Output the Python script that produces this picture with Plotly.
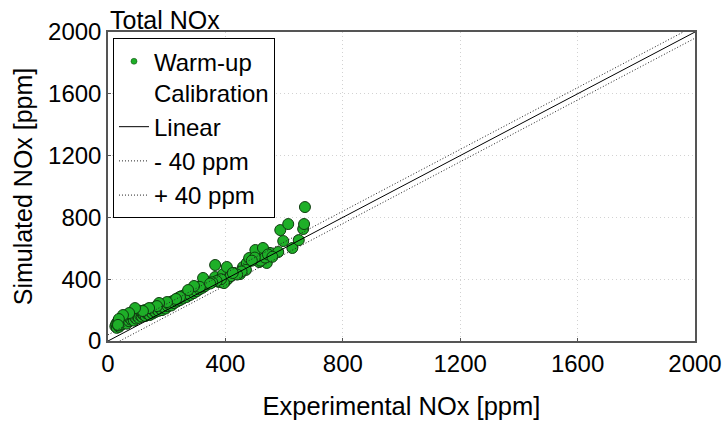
import plotly.graph_objects as go

# Experimental vs simulated NOx [ppm]
exp_nox = [25, 28, 30, 32, 34, 35, 38, 40, 42, 44, 45, 48, 50, 52, 55, 56, 58, 60, 62, 64,
           65, 68, 70, 72, 74, 76, 78, 80, 82, 85, 86, 88, 90, 92, 95, 96, 98, 100, 102, 105,
           108, 110, 112, 115, 118, 120, 122, 125, 128, 130, 132, 135, 138, 140, 142, 145, 148, 150,
           152, 155, 158, 160, 162, 165, 168, 170, 172, 175, 178, 180, 184, 186, 190, 192, 196, 200,
           204, 208, 212, 216, 220, 225, 230, 235, 240, 245, 250, 255, 262, 268, 275, 280, 288, 292,
           298, 302, 308, 312, 318, 322, 326, 330, 335, 340,
           324, 313, 293, 273, 245, 232, 201, 174, 167, 140, 119, 92, 72, 51, 37, 34,
           365, 365, 378, 392, 378, 405, 430, 450, 460, 473, 481, 515, 541, 518, 552, 502, 528, 580,
           628, 650, 597, 587, 614, 665, 668, 671,
           402, 410, 418, 395, 385, 370, 355, 348, 520, 535, 545, 560, 500, 490, 470, 455, 440, 425]
sim_nox = [95, 110, 85, 120, 100, 130, 92, 115, 140, 105, 125, 150, 110, 135, 160, 120, 145, 130, 165, 112,
           150, 140, 170, 128, 155, 145, 175, 138, 160, 150, 185, 132, 165, 155, 178, 145, 190, 160, 170, 150,
           182, 165, 195, 158, 175, 188, 170, 200, 162, 185, 178, 205, 175, 192, 168, 210, 185, 198,
           178, 215, 192, 205, 188, 225, 200, 212, 195, 232, 208, 220, 200, 238, 215, 228, 210, 245,
           225, 238, 252, 230, 258, 245, 268, 255, 280, 265, 290, 275, 300, 285, 312, 298, 325, 310,
           340, 322, 350, 335, 362, 345, 375, 355, 385, 370,
           408, 350, 356, 330, 285, 272, 252, 246, 226, 213, 194, 213, 181, 168, 142, 104,
           492, 414, 395, 433, 382, 479, 440, 433, 479, 505, 537, 511, 505, 544, 570, 589, 602, 576,
           602, 653, 647, 718, 757, 725, 757, 867,
           390, 405, 420, 375, 400, 388, 380, 372, 520, 540, 560, 545, 540, 520, 460, 450, 430, 440]

line_x = [0, 2000]
offset_ppm = 40
axis_ticks = [0, 400, 800, 1200, 1600, 2000]

FONT = "Arial, Liberation Sans, sans-serif"
GREEN = "rgb(30,175,40)"
EDGE = "rgb(15,60,15)"

fig = go.Figure()
fig.add_trace(go.Scatter(
    x=exp_nox, y=sim_nox, mode="markers", name="Warm-up<br>Calibration", showlegend=False,
    marker=dict(size=11, color=GREEN, line=dict(color=EDGE, width=1)),
))
# legend-only entry with a small marker, as in the reference legend
fig.add_trace(go.Scatter(
    x=[None], y=[None], mode="markers", name="Warm-up<br>Calibration",
    marker=dict(size=6, color=GREEN, line=dict(color=EDGE, width=0.5)),
))
fig.add_trace(go.Scatter(
    x=line_x, y=line_x, mode="lines", name="Linear",
    line=dict(color="black", width=1),
))
fig.add_trace(go.Scatter(
    x=[line_x[0] + offset_ppm, line_x[1]], y=[line_x[0], line_x[1] - offset_ppm],
    mode="lines", name="- 40 ppm",
    line=dict(color="#222222", width=1, dash="1px,2px"),
))
fig.add_trace(go.Scatter(
    x=[line_x[0], line_x[1] - offset_ppm], y=[line_x[0] + offset_ppm, line_x[1]],
    mode="lines", name="+ 40 ppm",
    line=dict(color="#222222", width=1, dash="1px,2px"),
))

axis_common = dict(
    range=[0, 2000], tickvals=axis_ticks, ticktext=[str(v) for v in axis_ticks],
    showgrid=True, gridcolor="#d2d2d2", griddash="1px,3px", gridwidth=1,
    zeroline=False, showline=True, linecolor="#555555", linewidth=1.5, mirror=True,
    ticks="inside", ticklen=3, tickcolor="#555555", automargin=False,
    tickfont=dict(family=FONT, size=24, color="black"),
)

fig.update_layout(
    width=728, height=427,
    margin=dict(l=108, r=33, t=32, b=86),
    paper_bgcolor="white", plot_bgcolor="white",
    font=dict(family=FONT, color="black"),
    showlegend=True,
    legend=dict(
        x=0.0085, y=0.98, xanchor="left", yanchor="top", valign="top",
        bordercolor="black", borderwidth=1, bgcolor="white",
        font=dict(family=FONT, size=24, color="black"),
        itemwidth=30, tracegroupgap=0,
    ),
    xaxis=dict(axis_common, title=dict(text="Experimental NOx [ppm]",
                                       font=dict(family=FONT, size=25.5), standoff=22)),
    yaxis=dict(axis_common, title=dict(text="Simulated NOx [ppm]",
                                       font=dict(family=FONT, size=25), standoff=8)),
    annotations=[dict(text="Total NOx", xref="paper", yref="paper", x=0, y=1,
                      xanchor="left", yanchor="bottom", showarrow=False, yshift=-4,
                      font=dict(family=FONT, size=25, color="black"))],
)

fig.write_html("out.html")
